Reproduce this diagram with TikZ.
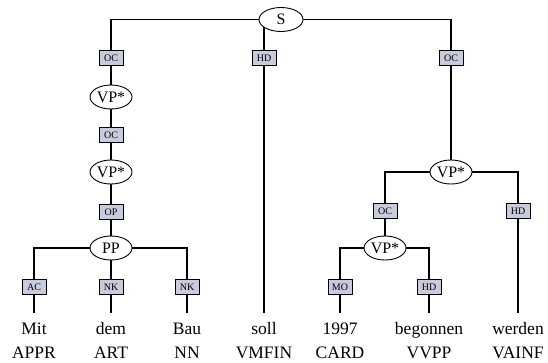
\documentclass[tikz,border=0pt]{standalone}
\usepackage{fontspec}
\setmainfont{Liberation Serif}
\usetikzlibrary{shapes.geometric}
\pgfdeclarelayer{bg}
\pgfsetlayers{bg,main}
\definecolor{boxfill}{RGB}{200,203,220}
\tikzset{
  cat/.style={draw, ellipse, fill=white, line width=0.9pt, inner sep=0pt,
    minimum width=42pt, minimum height=24pt, font=\fontsize{16}{18}\selectfont},
  edgelab/.style={draw, rectangle, fill=boxfill, line width=0.9pt, inner sep=0pt,
    minimum width=24pt, minimum height=15pt, font=\fontsize{10}{11}\selectfont},
  word/.style={anchor=base, inner sep=0pt, text height=12pt, text depth=3pt,
    outer ysep=10pt, font=\fontsize{17.5}{20}\selectfont},
  postag/.style={anchor=base, inner sep=0pt, font=\fontsize{17.5}{20}\selectfont},
  conn/.style={line width=1.3pt}
}
\begin{document}
\begin{tikzpicture}[x=1pt,y=-1pt]
\useasboundingbox (0,0) rectangle (548,362);
% nodes
\node[cat, minimum width=44pt] (S) at (281,19.5) {S};
\node[edgelab] (oc1) at (111,58) {OC};
\node[edgelab] (hd1) at (264,58) {HD};
\node[edgelab] (oc2) at (451,58) {OC};
\node[cat] (vp1) at (111,97) {VP*};
\node[edgelab] (oc3) at (111,135) {OC};
\node[cat] (vp2) at (111,172) {VP*};
\node[edgelab] (op) at (111,212) {OP};
\node[cat] (pp) at (111,248) {PP};
\node[edgelab] (ac) at (34,287) {AC};
\node[edgelab] (nk1) at (111,287) {NK};
\node[edgelab] (nk2) at (187,287) {NK};
\node[cat] (vpR) at (451,172) {VP*};
\node[edgelab] (ocR) at (385,211) {OC};
\node[edgelab] (hdR) at (518,211) {HD};
\node[cat] (vpR2) at (385,248) {VP*};
\node[edgelab] (mo) at (340,287) {MO};
\node[edgelab] (hdR2) at (429,287) {HD};
% words
\node[word] (w1) at (34,334.5) {Mit};
\node[word] (w2) at (111,334.5) {dem};
\node[word] (w3) at (187,334.5) {Bau};
\node[word] (w4) at (264,334.5) {soll};
\node[word] (w5) at (340,334.5) {1997};
\node[word] (w6) at (429,334.5) {begonnen};
\node[word] (w7) at (518,334.5) {werden};
\node[postag] (p1) at (34,358.5) {APPR};
\node[postag] (p2) at (111,358.5) {ART};
\node[postag] (p3) at (187,358.5) {NN};
\node[postag] (p4) at (264,358.5) {VMFIN};
\node[postag] (p5) at (340,358.5) {CARD};
\node[postag] (p6) at (429,358.5) {VVPP};
\node[postag] (p7) at (518,358.5) {VAINF};
% connectors
\begin{pgfonlayer}{bg}
\draw[conn] (S.center) -| (oc1.center);
\draw[conn] (S.center) -| (hd1.center);
\draw[conn] (S.center) -| (oc2.center);
\draw[conn] (oc1.center) -- (vp1.center);
\draw[conn] (vp1.center) -- (oc3.center);
\draw[conn] (oc3.center) -- (vp2.center);
\draw[conn] (vp2.center) -- (op.center);
\draw[conn] (op.center) -- (pp.center);
\draw[conn] (pp.center) -| (ac.center);
\draw[conn] (pp.center) -- (nk1.center);
\draw[conn] (pp.center) -| (nk2.center);
\draw[conn] (oc2.center) -- (vpR.center);
\draw[conn] (vpR.center) -| (ocR.center);
\draw[conn] (vpR.center) -| (hdR.center);
\draw[conn] (ocR.center) -- (vpR2.center);
\draw[conn] (vpR2.center) -| (mo.center);
\draw[conn] (vpR2.center) -| (hdR2.center);
\draw[conn] (ac.center) -- (w1.north);
\draw[conn] (nk1.center) -- (w2.north);
\draw[conn] (nk2.center) -- (w3.north);
\draw[conn] (hd1.center) -- (w4.north);
\draw[conn] (mo.center) -- (w5.north);
\draw[conn] (hdR2.center) -- (w6.north);
\draw[conn] (hdR.center) -- (w7.north);
\end{pgfonlayer}
\end{tikzpicture}
\end{document}
